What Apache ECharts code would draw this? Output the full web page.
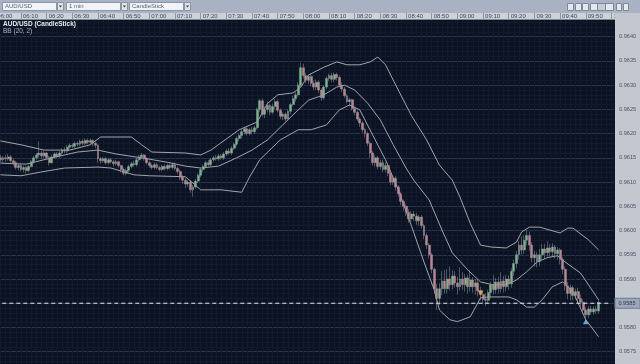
<!DOCTYPE html>
<html><head><meta charset="utf-8">
<script src="https://cdn.jsdelivr.net/npm/echarts@6/dist/echarts.min.js"></script>
<style>html,body{margin:0;padding:0;background:#0b1322;overflow:hidden}#c{width:640px;height:364px}</style>
</head><body><div id="c"></div>
<script>
// ---- data ----
const firstMinute = 360;   // 06:00
const lastMinute = 601;    // 10:01
const candleOffset = 2;    // first candle at 06:02
// [open, close, low, high] in 1e-5 units
const candles = [
[96150,96146,96140,96156],[96146,96150,96140,96154],[96150,96148,96142,96156],[96148,96152,96144,96158],
[96152,96144,96140,96156],[96144,96140,96134,96148],[96140,96130,96126,96144],[96130,96134,96124,96138],
[96134,96126,96122,96138],[96126,96130,96120,96134],[96130,96124,96118,96134],[96124,96132,96120,96136],
[96132,96142,96130,96146],[96142,96150,96138,96154],[96150,96156,96146,96160],[96156,96160,96150,96184],
[96160,96154,96148,96164],[96154,96160,96150,96164],[96160,96150,96146,96162],[96150,96140,96134,96154],
[96140,96152,96138,96156],[96152,96158,96148,96162],[96158,96154,96150,96162],[96154,96160,96150,96164],
[96160,96166,96156,96170],[96166,96164,96160,96172],[96164,96172,96160,96176],[96172,96176,96168,96180],
[96176,96174,96170,96180],[96174,96180,96170,96184],[96180,96178,96174,96184],[96178,96184,96174,96188],
[96184,96180,96176,96188],[96180,96186,96176,96190],[96186,96182,96178,96190],[96182,96186,96178,96190],
[96186,96180,96174,96188],[96180,96176,96170,96184],[96176,96148,96140,96178],[96148,96144,96138,96152],
[96144,96148,96140,96152],[96148,96140,96136,96152],[96140,96146,96136,96150],[96146,96142,96138,96150],
[96142,96138,96132,96146],[96138,96142,96134,96146],[96142,96134,96130,96144],[96134,96126,96120,96136],
[96126,96118,96114,96130],[96118,96124,96114,96128],[96124,96132,96120,96136],[96132,96138,96128,96142],
[96138,96136,96132,96144],[96136,96146,96132,96150],[96146,96152,96142,96156],[96152,96156,96148,96160],
[96156,96148,96144,96158],[96148,96140,96136,96152],[96140,96134,96130,96144],[96134,96130,96126,96138],
[96130,96136,96126,96140],[96136,96130,96126,96140],[96130,96126,96122,96134],[96126,96132,96122,96136],
[96132,96128,96124,96136],[96128,96134,96124,96138],[96134,96130,96126,96138],[96130,96136,96126,96140],
[96136,96128,96124,96140],[96128,96122,96116,96132],[96122,96110,96104,96126],[96110,96104,96096,96114],
[96104,96096,96088,96108],[96096,96100,96090,96104],[96100,96084,96078,96104],[96084,96090,96070,96094],
[96090,96102,96086,96106],[96102,96114,96098,96118],[96114,96126,96110,96130],[96126,96132,96120,96136],
[96132,96140,96128,96144],[96140,96136,96132,96146],[96136,96146,96132,96150],[96146,96150,96142,96154],
[96150,96148,96144,96156],[96148,96154,96144,96158],[96154,96150,96146,96158],[96150,96158,96146,96162],
[96158,96164,96154,96168],[96164,96160,96156,96170],[96160,96170,96156,96174],[96170,96178,96166,96182],
[96178,96190,96174,96194],[96190,96196,96184,96200],[96196,96204,96190,96208],[96204,96210,96198,96214],
[96210,96200,96196,96214],[96200,96208,96196,96212],[96208,96204,96198,96214],[96204,96212,96200,96216],
[96212,96250,96208,96254],[96250,96268,96244,96272],[96268,96240,96236,96272],[96240,96250,96232,96256],
[96250,96258,96244,96266],[96258,96244,96238,96262],[96244,96256,96240,96262],[96256,96266,96250,96272],
[96266,96248,96244,96270],[96248,96236,96230,96252],[96236,96240,96228,96244],[96240,96230,96226,96244],
[96230,96246,96226,96250],[96246,96260,96240,96264],[96260,96272,96256,96278],[96272,96280,96266,96286],
[96280,96300,96276,96306],[96300,96336,96296,96346],[96336,96320,96314,96344],[96320,96310,96304,96326],
[96310,96318,96302,96322],[96318,96304,96298,96322],[96304,96296,96290,96310],[96296,96306,96290,96312],
[96306,96290,96284,96310],[96290,96274,96268,96294],[96274,96296,96270,96300],[96296,96314,96292,96318],
[96314,96320,96308,96324],[96320,96312,96306,96326],[96312,96322,96306,96326],[96322,96316,96310,96326],
[96316,96300,96296,96320],[96300,96292,96286,96306],[96292,96278,96274,96296],[96278,96266,96262,96282],
[96266,96270,96256,96274],[96270,96252,96248,96272],[96252,96244,96238,96256],[96244,96230,96226,96248],
[96230,96222,96214,96234],[96222,96208,96202,96226],[96208,96200,96192,96212],[96200,96180,96174,96204],
[96180,96160,96150,96184],[96160,96140,96134,96164],[96140,96150,96132,96156],[96150,96132,96126,96154],
[96132,96140,96126,96146],[96140,96126,96120,96146],[96126,96134,96120,96140],[96134,96118,96112,96138],
[96118,96100,96094,96122],[96100,96108,96094,96112],[96108,96090,96082,96112],[96090,96076,96070,96094],
[96076,96060,96052,96080],[96060,96050,96040,96064],[96050,96038,96030,96054],[96038,96024,96016,96044],
[96024,96034,96018,96040],[96034,96030,96020,96040],[96030,96020,96012,96036],[96020,96028,96010,96032],
[96028,96010,96004,96032],[96010,95990,95982,96014],[95990,95970,95962,95994],[95970,95950,95942,95974],
[95950,95920,95912,95954],[95920,95880,95870,95924],[95880,95860,95836,95890],[95860,95880,95846,95892],
[95880,95896,95866,95916],[95896,95880,95870,95918],[95880,95900,95870,95920],[95900,95888,95876,95926],
[95888,95906,95878,95918],[95906,95892,95882,95916],[95892,95884,95868,95904],[95884,95900,95876,95924],
[95900,95888,95878,95914],[95888,95902,95874,95910],[95902,95884,95870,95908],[95884,95898,95874,95918],
[95898,95884,95872,95904],[95884,95892,95868,95900],[95892,95876,95864,95900],[95876,95868,95856,95884],
[95868,95858,95848,95876],[95858,95856,95844,95870],[95856,95872,95848,95878],[95872,95888,95860,95894],
[95888,95878,95868,95908],[95878,95894,95870,95902],[95894,95880,95870,95904],[95880,95896,95872,95914],
[95896,95884,95872,95906],[95884,95900,95874,95908],[95900,95890,95878,95908],[95890,95916,95882,95922],
[95916,95932,95906,95940],[95932,95950,95922,95958],[95950,95970,95940,95978],[95970,95960,95950,95988],
[95960,95980,95952,95990],[95980,95990,95970,96000],[95990,95970,95958,95998],[95970,95944,95934,95976],
[95944,95950,95926,95958],[95950,95936,95924,95956],[95936,95950,95926,95962],[95950,95962,95940,95972],
[95962,95954,95942,95972],[95954,95964,95946,95978],[95964,95956,95946,95972],[95956,95966,95946,95974],
[95966,95952,95942,95970],[95952,95960,95940,95966],[95960,95940,95930,95964],[95940,95920,95910,95946],
[95920,95886,95876,95926],[95886,95870,95858,95894],[95870,95882,95856,95888],[95882,95866,95856,95886],
[95866,95874,95858,95880],[95874,95860,95850,95882],[95860,95852,95842,95868],[95852,95836,95828,95858],
[95836,95826,95814,95842],[95826,95838,95820,95844],[95838,95832,95826,95844],[95832,95838,95826,95844],
[95838,95834,95828,95844],[95834,95852,95828,95858]
];
// Bollinger band vertices: [minutes after 06:02, value 1e-5]
const bbUpper = [[0,96185],[8,96177],[17,96166],[27,96166],[35,96177],[39,96193],[51,96193],[55,96177],[59,96162],
[72,96160],[78,96156],[82,96166],[93,96208],[100,96224],[104,96262],[108,96280],[114,96284],[117,96296],[120,96321],
[126,96337],[131,96348],[135,96342],[140,96342],[144,96348],[147,96358],[150,96342],[154,96300],[160,96238],[166,96187],
[171,96135],[176,96104],[179,96069],[183,96015],[187,95970],[191,95966],[197,95964],[201,95976],[203,95997],[206,96007],
[210,96007],[218,95995],[221,96005],[223,96005],[229,95981],[233,95960]];
const bbMiddle = [[0,96139],[10,96137],[20,96150],[30,96162],[38,96166],[45,96158],[55,96150],[65,96141],[72,96133],
[78,96129],[85,96133],[92,96150],[98,96166],[104,96187],[110,96218],[116,96249],[120,96269],[126,96280],[131,96296],
[134,96300],[138,96290],[143,96263],[148,96228],[153,96177],[158,96129],[161,96104],[167,96063],[172,96001],[176,95954],
[182,95919],[187,95894],[192,95888],[197,95888],[201,95898],[205,95915],[209,95935],[213,95944],[217,95948],[220,95935],
[226,95912],[233,95857]];
const bbLower = [[0,96115],[8,96113],[16,96121],[25,96129],[38,96131],[43,96129],[52,96115],[58,96113],[72,96111],
[75,96098],[78,96084],[86,96084],[94,96079],[97,96110],[101,96146],[109,96187],[116,96208],[121,96208],[127,96218],
[132,96249],[136,96259],[140,96249],[145,96197],[150,96146],[155,96084],[160,96011],[165,95935],[169,95877],[171,95836],
[175,95816],[178,95812],[183,95822],[187,95861],[190,95863],[198,95863],[201,95857],[205,95842],[208,95842],[211,95857],
[215,95884],[219,95894],[223,95874],[228,95816],[233,95781]];
const sellMarks = [[187,95871]];
const buyMarks = [[228,95812]];
const lastPrice = 0.9585;
const yMin = 0.9570, yMax = 0.9645, yStep = 0.0005;
const symbolText = 'AUD/USD (CandleStick)';
const indicatorText = 'BB (20, 2)';
const menus = ['AUD/USD', '1 min', 'CandleStick'];

// ---- build ----
const pad = n => String(n).padStart(2, '0');
const cats = [];
for (let m = firstMinute; m <= lastMinute; m++) cats.push(pad(Math.floor(m / 60)) + ':' + pad(m % 60));
const tenMin = (i, v) => v.charAt(4) === '0';
const K = v => v / 1e5;
const candleData = candles.map((c, i) => [i + candleOffset, K(c[0]), K(c[1]), K(c[2]), K(c[3])]);
const toLine = arr => arr.map(p => [p[0] + candleOffset, K(p[1])]);
const nCat = lastMinute - firstMinute;

const chart = echarts.init(document.getElementById('c'), null, {renderer: 'canvas'});

const menuX = [[2, 54, 57], [66, 54, 121], [129, 54, 184]];
const graphics = [
  {type: 'rect', shape: {x: 0, y: 0, width: 640, height: 13}, style: {fill: '#a9b2c3'}, z: 50, silent: true},
  {type: 'rect', shape: {x: 0, y: 13, width: 640, height: 7}, style: {fill: '#ccd1da'}, z: 50, silent: true},
  {type: 'rect', shape: {x: 615, y: 13, width: 25, height: 351}, style: {fill: '#c2c7d0'}, z: 65, silent: true},
  {type: 'line', shape: {x1: 0, y1: 19.5, x2: 615, y2: 19.5}, style: {stroke: '#7d8596', lineWidth: 1}, z: 51, silent: true},
  {type: 'text', x: 3, y: 20.5, style: {text: symbolText, fill: '#e8ecf2', font: 'bold 6.5px "Liberation Sans", Arial, sans-serif'}, z: 60, silent: true},
  {type: 'text', x: 3, y: 27.5, style: {text: indicatorText, fill: '#aeb4c0', font: '6.5px "Liberation Sans", Arial, sans-serif'}, z: 60, silent: true}
];
menus.forEach((t, k) => {
  const [x, w, ax] = menuX[k];
  graphics.push({type: 'rect', shape: {x: x + 0.5, y: 2.5, width: w, height: 8}, style: {fill: '#f2f3f6', stroke: '#8c95a6', lineWidth: 1}, z: 52, silent: true});
  graphics.push({type: 'text', x: x + 3, y: 3.5, style: {text: t, fill: '#5a6272', font: '6px "Liberation Sans", Arial, sans-serif'}, z: 53, silent: true});
  graphics.push({type: 'rect', shape: {x: ax + 0.5, y: 2.5, width: 6, height: 8}, style: {fill: '#dfe3ea', stroke: '#8c95a6', lineWidth: 1}, z: 52, silent: true});
  graphics.push({type: 'polygon', shape: {points: [[ax + 2, 5.5], [ax + 5, 5.5], [ax + 3.5, 7.5]]}, style: {fill: '#303642'}, z: 53, silent: true});
});
[[567, 6], [575, 6], [582, 6], [590, 7], [597, 8], [605, 8], [616, 5], [623, 5]].forEach(([x, w], k) => {
  graphics.push({type: 'rect', shape: {x: x + 0.5, y: 3.5, width: w, height: 7}, style: {fill: k === 4 ? '#c4cad6' : '#e4e7ec', stroke: '#7e8798', lineWidth: 1}, z: 52, silent: true});
});

const font = '"Liberation Sans", Arial, sans-serif';
chart.setOption({
  animation: false,
  backgroundColor: '#0b1322',
  grid: {left: -4.7, top: 12.47, width: 618.7, height: 363.45, containLabel: false, outerBoundsMode: 'none'},
  xAxis: [
    {type: 'category', data: cats, boundaryGap: false,
     axisLine: {show: false}, axisTick: {show: false}, axisLabel: {show: false},
     splitLine: {show: true, interval: tenMin, lineStyle: {color: '#2a3550', width: 1}}},
    {type: 'category', data: cats, boundaryGap: false, position: 'top', offset: -7.5, z: 60,
     axisLine: {show: false},
     axisTick: {show: true, interval: tenMin, length: 7, lineStyle: {color: '#8e96a6'}},
     axisLabel: {show: true, interval: tenMin, fontSize: 6, fontFamily: font, color: '#3e4656', align: 'left', margin: 1, padding: [0, 0, 0, 2]},
     splitLine: {show: false}},
    {type: 'value', min: 0, max: nCat, interval: 2, show: true,
     axisLine: {show: false}, axisTick: {show: false}, axisLabel: {show: false},
     splitLine: {show: true, lineStyle: {color: '#121b2d', width: 1}}}
  ],
  yAxis: [
    {type: 'value', min: yMin, max: yMax, interval: yStep, position: 'right',
     axisLine: {show: false}, axisTick: {show: false}, axisLabel: {show: false},
     splitLine: {show: true, lineStyle: {color: '#2a3550'}},
     minorTick: {show: false, splitNumber: 5},
     minorSplitLine: {show: true, lineStyle: {color: '#121b2d'}}},
    {type: 'value', min: yMin, max: yMax, interval: yStep, position: 'right', z: 70,
     axisLine: {show: false}, axisTick: {show: false}, splitLine: {show: false},
     axisLabel: {show: true, margin: 5, fontSize: 5.6, fontFamily: font, color: '#4c5464', align: 'left',
       formatter: v => (v > 0.96425 || v < 0.95715) ? '' : v.toFixed(4)}}
  ],
  graphic: graphics,
  series: [
    {type: 'line', name: 'BB upper', data: toLine(bbUpper), xAxisIndex: 0, yAxisIndex: 0, symbol: 'none',
     lineStyle: {color: '#a2a5ab', width: 1}, z: 3, silent: true},
    {type: 'line', name: 'BB middle', data: toLine(bbMiddle), xAxisIndex: 0, yAxisIndex: 0, symbol: 'none',
     lineStyle: {color: '#a2a5ab', width: 1}, z: 3, silent: true},
    {type: 'line', name: 'BB lower', data: toLine(bbLower), xAxisIndex: 0, yAxisIndex: 0, symbol: 'none',
     lineStyle: {color: '#a2a5ab', width: 1}, z: 3, silent: true},
    {type: 'candlestick', name: 'AUDUSD', data: candleData, encode: {x: 0, y: [1, 2, 3, 4]},
     xAxisIndex: 0, yAxisIndex: 0, barWidth: 2.4, z: 4,
     itemStyle: {color: '#6fc07f', color0: '#d27c88', borderColor: '#9198a2', borderColor0: '#9198a2', borderWidth: 0.5}},
    {type: 'scatter', name: 'sell', data: toLine(sellMarks), xAxisIndex: 0, yAxisIndex: 0, symbol: 'triangle',
     symbolSize: [6, 5], symbolRotate: 180, itemStyle: {color: '#f0a848'}, z: 5},
    {type: 'scatter', name: 'buy', data: toLine(buyMarks), xAxisIndex: 0, yAxisIndex: 0, symbol: 'triangle',
     symbolSize: [6, 5], itemStyle: {color: '#78c8f4'}, z: 5},
    {type: 'line', name: 'last', data: [[0, lastPrice], [nCat - 1, lastPrice]], xAxisIndex: 0, yAxisIndex: 0, z: 80,
     symbol: 'none', silent: true,
     lineStyle: {color: '#e6e9ee', type: [4, 3], width: 1},
     endLabel: {show: true, distance: 4, formatter: () => lastPrice.toFixed(4),
       fontSize: 5.6, fontFamily: font, color: '#303848', backgroundColor: '#9ea8bb',
       borderColor: '#6f7a90', borderWidth: 1, padding: [2, 4, 1, 3]}}
  ]
});
</script></body></html>
